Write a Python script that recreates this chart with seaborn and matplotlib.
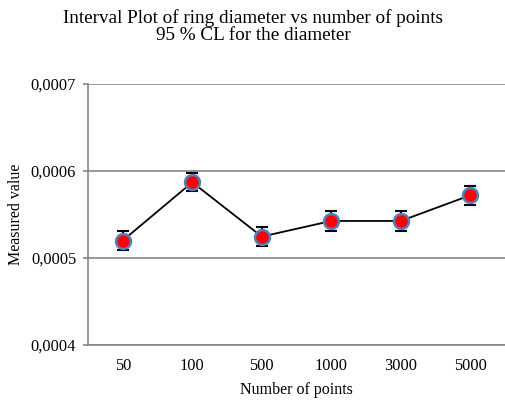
import pandas as pd
import matplotlib
matplotlib.use('Agg')
import matplotlib.pyplot as plt
import seaborn as sns

# Data
points = ['50', '100', '500', '1000', '3000', '5000']
diameter = [0.000520, 0.000587, 0.0005245, 0.0005425, 0.0005425, 0.000572]
ci95 = [0.0000110, 0.0000105, 0.0000110, 0.0000110, 0.0000110, 0.0000110]

df = pd.DataFrame({'points': points, 'diameter': diameter})

sns.set_style('white')
plt.rcParams['font.family'] = ['Liberation Serif', 'DejaVu Serif']
plt.rcParams['text.color'] = 'black'
plt.rcParams['axes.labelcolor'] = 'black'

fig = plt.figure(figsize=(5.06, 4.01), dpi=100)
ax = fig.add_axes([0.174, 0.140, 0.824, 0.6505])

grey = '#868686'

sns.lineplot(data=df, x='points', y='diameter', color='black', linewidth=1.3,
             sort=False, ax=ax, zorder=2)
ax.errorbar(x=range(len(points)), y=diameter, yerr=ci95, fmt='none',
            ecolor='black', elinewidth=1.5, capsize=4, capthick=1.5, zorder=3)
ax.scatter(range(len(points)), diameter, s=115, color='#ff0000',
           edgecolor='#4f81bd', linewidth=1.8, zorder=4)

ax.set_ylim(0.0004, 0.0007)
ax.set_yticks([0.0004, 0.0005, 0.0006, 0.0007])
ax.yaxis.set_major_formatter(plt.FuncFormatter(lambda v, _: f'{v:.4f}'.replace('.', ',')))
ax.set_xlim(-0.5, len(points) - 0.5)

# category boundaries get the tick marks, labels sit in the middle
ax.set_xticks([i + 0.5 for i in range(-1, len(points))], minor=True)
ax.tick_params(axis='x', which='major', length=0, pad=9.5, labelsize=11.8, labelcolor='black')
ax.tick_params(axis='x', which='minor', length=3.5, width=1.2, color=grey, direction='out')
ax.tick_params(axis='y', which='major', length=3.5, width=1.2, color=grey, direction='out',
               left=True, labelsize=11.8, pad=5, labelcolor='black')

ax.grid(axis='y', color=grey, linewidth=1.2)
ax.grid(axis='x', visible=False)
ax.set_axisbelow(True)

ax.spines['right'].set_visible(False)
ax.spines['top'].set_visible(False)
for s in ['left', 'bottom']:
    ax.spines[s].set_color(grey)
    ax.spines[s].set_linewidth(1.2)

ax.set_xlabel('Number of points', fontsize=11.5, labelpad=6)
ax.set_ylabel('Measured value', fontsize=11.5, labelpad=5)

fig.text(0.5, 1 - 18 / 401, 'Interval Plot of ring diameter vs number of points',
         ha='center', va='center', fontsize=13.8)
fig.text(0.5, 1 - 35 / 401, '95 % CL for the diameter',
         ha='center', va='center', fontsize=13.8)

plt.savefig('out.png', dpi=100)
